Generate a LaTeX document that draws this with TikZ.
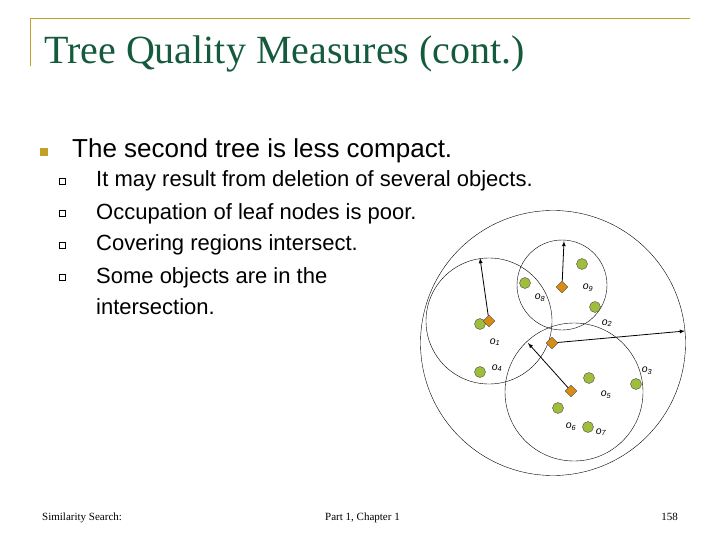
\documentclass[tikz,border=0pt]{standalone}
\usepackage{fontspec}
\setmainfont{Liberation Sans}
\newfontfamily\serifx{Liberation Serif}
\usetikzlibrary{shapes.geometric}
\definecolor{gold}{RGB}{196,160,40}
\definecolor{ttl}{RGB}{20,90,60}
\definecolor{ptfill}{RGB}{160,190,60}
\definecolor{dmfill}{RGB}{215,140,20}
\begin{document}
\begin{tikzpicture}[x=1pt,y=-1pt,
  pt/.style={circle,draw=black!70,fill=ptfill,minimum size=11pt,inner sep=0pt},
  dm/.style={diamond,draw=black!70,fill=dmfill,minimum size=12pt,inner sep=0pt},
  lab/.style={font=\fontsize{10.5}{10.5}\selectfont\itshape,inner sep=0pt},
  ar/.style={-latex,thick},
  reg/.style={draw,thin}]
\useasboundingbox (0,0) rectangle (720,540);
\draw[gold,thick] (30,18) -- (690,18);
\draw[gold,thick] (30,18) -- (30,66);
\node[anchor=base west,text=ttl,font=\serifx\fontsize{40}{40}\selectfont,inner sep=0pt] (title) at (44,64) {Tree Quality Measures (cont.)};
\node[fill=gold,minimum size=8pt,inner sep=0pt] (b1) at (44,152) {};
\node[anchor=base west,font=\fontsize{26}{26}\selectfont,inner sep=0pt] (t1) at (72,158) {The second tree is less compact.};
\foreach \y/\t [count=\i] in {187/It may result from deletion of several objects.,219/Occupation of leaf nodes is poor.,251/Covering regions intersect.,283/Some objects are in the}{
  \node[draw,minimum size=6pt,inner sep=0pt] (sb\i) at (62,\y-6) {};
  \node[anchor=base west,font=\fontsize{22}{22}\selectfont,inner sep=0pt] (st\i) at (96,\y) {\t};
}
\node[anchor=base west,font=\fontsize{22}{22}\selectfont,inner sep=0pt] (st5) at (96,314) {intersection.};
% regions
\draw[reg] (553,343) circle (132.5);
\draw[reg] (489,321) circle (63);
\draw[reg] (562,285) circle (45);
\draw[reg] (574,392) circle (69);
% points
\foreach \n/\x/\y in {o1/480/324,o4/480/372,o8/525/283,o9/582/264,o2/595/307,o3/636/384,o5/589/378,o6/558/408,o7/588/427}
  \node[pt] (\n) at (\x,\y) {};
\foreach \n/\x/\y in {dl/489/321,dt/562/287,dc/552/343,db/571/391}
  \node[dm] (\n) at (\x,\y) {};
\coordinate (el) at (480,258);
\coordinate (et) at (564,241);
\coordinate (ec) at (685,331);
\coordinate (eb) at (528,343);
\draw[ar] (dl) -- (el);
\draw[ar] (dt) -- (et);
\draw[ar] (dc) -- (ec);
\draw[ar] (db) -- (eb);
\foreach \n/\x/\y/\s in {l1/495/342/1,l4/497/368/4,l8/540/298/8,l9/588/288/9,l2/607/323/2,l3/647/371/3,l5/606/395/5,l6/571/427/6,l7/601/432/7}
  \node[lab] (\n) at (\x,\y) {o\textsubscript{\s}};
\node[anchor=base west,font=\serifx\fontsize{11}{11}\selectfont,inner sep=0pt] (f1) at (42,520) {Similarity Search:};
\node[anchor=base west,font=\serifx\fontsize{11}{11}\selectfont,inner sep=0pt] (f2) at (325,520) {Part 1, Chapter 1};
\node[anchor=base east,font=\serifx\fontsize{11}{11}\selectfont,inner sep=0pt] (f3) at (678,520) {158};
\end{tikzpicture}
\end{document}
